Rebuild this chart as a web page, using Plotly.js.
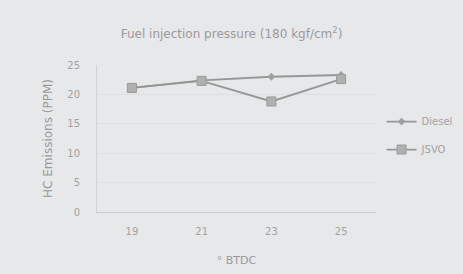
<!DOCTYPE html>
<html>
<head>
<meta charset="utf-8">
<script src="https://cdn.plot.ly/plotly-3.0.1.min.js"></script>
<style>html,body{margin:0;padding:0;background:#e7e8ea;}#chart{width:463px;height:274px;}</style>
</head>
<body>
<div id="chart"></div>
<script>
var categories = ["19", "21", "23", "25"];
var dieselValues = [21.1, 22.4, 23.0, 23.3];
var jsvoValues = [21.1, 22.3, 18.8, 22.6];
var yTicks = [0, 5, 10, 15, 20, 25];

var lineColor = "#969696";
var textColor = "#a2a2a2";
var fontFam = "DejaVu Sans, Verdana, sans-serif";

var traces = [
  {
    x: categories, y: dieselValues, name: "Diesel", type: "scatter", mode: "lines+markers",
    legendgroup: "d",
    line: {color: lineColor, width: 1.8},
    marker: {symbol: "diamond", size: 6, color: "#a0a0a0"}
  },
  {
    x: categories, y: jsvoValues, name: "JSVO", type: "scatter", mode: "lines+markers",
    legendgroup: "j",
    line: {color: lineColor, width: 1.8},
    marker: {symbol: "square", size: 9, color: "#b0b0b0", line: {color: "#999999", width: 1}}
  }
];

var layout = {
  width: 463, height: 274,
  paper_bgcolor: "#e7e8ea", plot_bgcolor: "#e7e8ea",
  margin: {l: 97, r: 87, t: 65, b: 62, autoexpand: false},
  font: {family: fontFam, size: 10, color: textColor},
  title: {text: "Fuel injection pressure (180 kgf/cm<sup>2</sup>)", x: 0.5, xanchor: "center", y: 0.875, yanchor: "middle",
          font: {family: fontFam, size: 12, color: "#9a9a9a"}},
  xaxis: {
    type: "category", range: [-0.5, 3.5], showgrid: false, zeroline: false,
    showline: true, linecolor: "#cdcdcd", linewidth: 1, ticks: "", automargin: false,
    tickfont: {family: fontFam, size: 10, color: textColor}, ticklabelstandoff: 10,
    title: {text: "° BTDC", font: {family: fontFam, size: 11, color: "#9a9a9a"}, standoff: 20}
  },
  yaxis: {
    range: [0, 25], tickvals: yTicks, ticktext: yTicks.map(String), automargin: false,
    showgrid: true, gridcolor: "#dddee0", gridwidth: 1, zeroline: false,
    showline: true, linecolor: "#d2d2d2", linewidth: 1, ticks: "",
    tickfont: {family: fontFam, size: 10, color: textColor}, ticklabelstandoff: 14,
    title: {text: "HC Emissions (PPM)", font: {family: fontFam, size: 12, color: "#9a9a9a"}, standoff: 12}
  },
  showlegend: true,
  legend: {x: 1.02, xanchor: "left", y: 0.52, yanchor: "middle", bgcolor: "rgba(0,0,0,0)",
           font: {family: fontFam, size: 10, color: textColor}, itemwidth: 30, tracegroupgap: 9}
};

Plotly.newPlot("chart", traces, layout, {displayModeBar: false, staticPlot: true});
</script>
</body>
</html>
